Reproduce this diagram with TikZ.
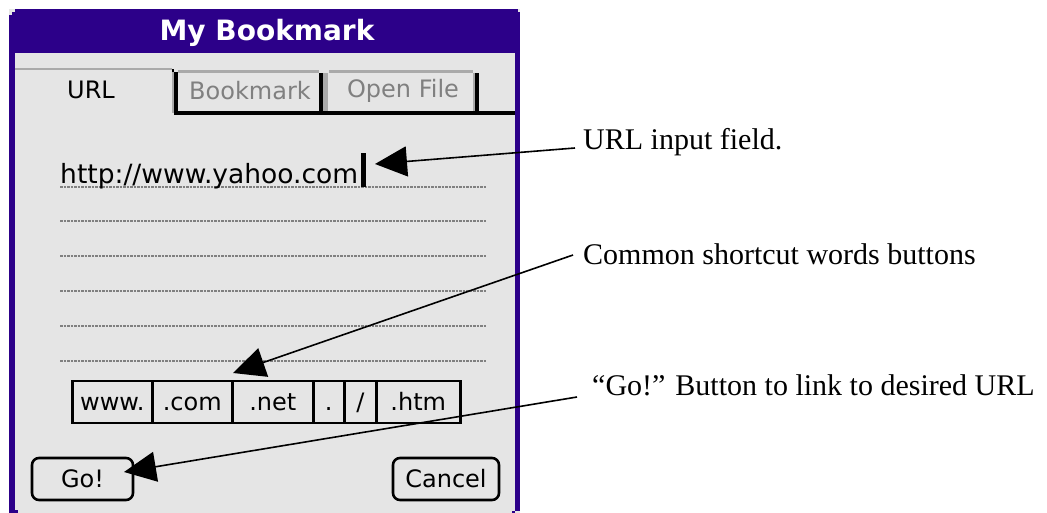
\documentclass[tikz,border=0pt]{standalone}
\usepackage{fontspec}
\setmainfont{Liberation Serif}
\newfontfamily\palmfont{DejaVu Sans}
\usetikzlibrary{arrows.meta}
\definecolor{palmpurple}{RGB}{44,0,137}
\definecolor{palmbg}{RGB}{229,229,229}
\definecolor{tabgray}{RGB}{170,170,170}
\definecolor{dotgray}{RGB}{128,128,128}
\definecolor{labelgray}{RGB}{128,128,128}
\tikzset{
  palmtext/.style={font=\palmfont\fontsize{24}{24}\selectfont, inner sep=0pt},
  titletext/.style={font=\palmfont\bfseries\fontsize{28}{28}\selectfont, text=white, inner sep=0pt},
  note/.style={font=\fontsize{30}{30}\selectfont, anchor=base west, inner sep=0pt},
  callout/.style={line width=1.6pt, -{Triangle[length=32pt,width=30pt]}},
  ruled/.style={dotgray, line width=2.5pt, dash pattern=on 2.5pt off 1pt},
  keycell/.style={palmtext, draw, line width=2.6pt, minimum height=42pt,
    text height=17pt, text depth=0pt, anchor=west},
  palmbutton/.style={palmtext, draw, line width=2.6pt, rounded corners=7pt,
    minimum height=42pt, text height=17pt, text depth=0pt},
}
\begin{document}
\begin{tikzpicture}[x=1pt,y=-1pt]
\useasboundingbox (0,0) rectangle (1047,513);

% window body and frame
\fill[palmbg] (9,9) rectangle (520,513);
\fill[palmpurple] (9,9) rectangle (520,53);
\fill[palmpurple] (9,9) rectangle (15,513);
\fill[palmpurple] (515,9) rectangle (520,511);
\fill[palmpurple] (15,510) rectangle (18,513);
\fill[palmpurple] (512,511) rectangle (515,513);
\fill[palmbg] (9,9) rectangle (15,12);
\fill[palmbg] (9,12) rectangle (12,15);
\fill[palmbg] (518,9) rectangle (520,12);
\node[titletext] (title) at (267,33) {My Bookmark};

% tabs
\fill[tabgray] (15,68) rectangle (172,70.5);
\fill (172,69) rectangle (174,72);
\fill[tabgray] (172,72) rectangle (174,113);
\fill (174,72) rectangle (178,115);
\fill[tabgray] (178,70) rectangle (319,73);
\fill (319,73) rectangle (323,113);
\fill[tabgray] (323,73) rectangle (328,113);
\fill[tabgray] (329,70) rectangle (473,73);
\fill[tabgray] (473,73) rectangle (475,113);
\fill (475,73) rectangle (479,113);
\fill (174,111) rectangle (515,115);
\node[palmtext] (taburl) at (91,90) {URL};
\node[palmtext, text=labelgray] (tabbook) at (250,91) {Bookmark};
\node[palmtext, text=labelgray] (tabfile) at (403,91) {Open File};

% input field lines
\foreach \yy in {187,221,256,291,326,361}
  \draw[ruled] (60,\yy) -- (486,\yy);
\node[font=\palmfont\fontsize{26.5}{26.5}\selectfont, inner sep=0pt, anchor=base west] (url) at (60,184) {http://www.yahoo.com};
\fill (361,153) rectangle (366,187);
\coordinate (cursor) at (375,164);

% shortcut keys
\node[keycell, minimum width=80pt] (kwww) at (71,402) {www.};
\node[keycell, minimum width=80pt] (kcom) at (151,402) {.com};
\node[keycell, minimum width=81pt] (knet) at (231,402) {.net};
\node[keycell, minimum width=31pt] (kdot) at (312,402) {.};
\node[keycell, minimum width=32pt] (kslash) at (343,402) {/};
\node[keycell, minimum width=84pt] (khtm) at (375,402) {.htm};
\coordinate (keystop) at (233,373);

% buttons
\node[palmbutton, minimum width=101pt] (go) at (82.5,479) {Go!};
\node[palmbutton, minimum width=106pt] (cancel) at (446,479) {Cancel};
\coordinate (gotip) at (124,472);

% callouts
\node[note] (noteurl) at (583,150) {URL input field.};
\node[note] (notekeys) at (583,265) {Common shortcut words buttons};
\node[note] (notego) at (592,395) {“Go!” Button to link to desired URL};
\draw[callout] ([shift={(-8,-2)}]noteurl.base west) -- (cursor);
\draw[callout] ([shift={(-10,-10)}]notekeys.base west) -- (keystop);
\draw[callout] ([shift={(-15,2)}]notego.base west) -- (gotip);
\end{tikzpicture}
\end{document}
